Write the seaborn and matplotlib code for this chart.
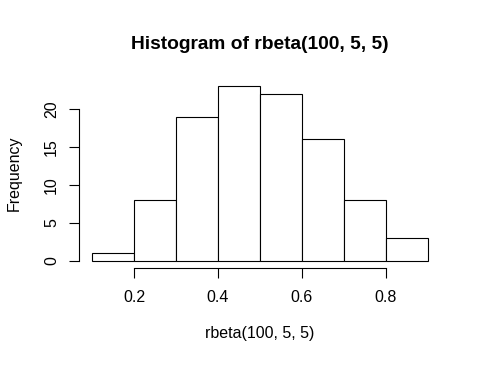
import numpy as np
import matplotlib
matplotlib.use("Agg")
import matplotlib.pyplot as plt
import seaborn as sns

# histogram bins and counts
bin_edges = [0.1, 0.2, 0.3, 0.4, 0.5, 0.6, 0.7, 0.8, 0.9]
counts = [1, 8, 19, 23, 22, 16, 8, 3]
x_ticks = [0.2, 0.4, 0.6, 0.8]
x_tick_labels = ["0.2", "0.4", "0.6", "0.8"]
y_ticks = [0, 5, 10, 15, 20]

sns.set_style("white")
plt.rcParams['font.family'] = ['Liberation Sans', 'DejaVu Sans']
plt.rcParams['text.color'] = 'black'
plt.rcParams['axes.labelcolor'] = 'black'
plt.rcParams['xtick.color'] = 'black'
plt.rcParams['ytick.color'] = 'black'

W, H = 482, 366
left, right, bottom, top_px = 78.6, 441.4, 268, 79.2   # plot region in pixels (from top)

fig = plt.figure(figsize=(W / 100, H / 100), dpi=100)
ax = fig.add_axes([left / W, (H - bottom) / H, (right - left) / W, (bottom - top_px) / H])

mids = [(a + b) / 2 for a, b in zip(bin_edges[:-1], bin_edges[1:])]
sns.histplot(
    x=mids,
    weights=counts,
    bins=bin_edges,
    color="white",
    edgecolor="black",
    linewidth=0.8,
    alpha=1,
    ax=ax
)

# R style: 4% padding around the data range
span_x = bin_edges[-1] - bin_edges[0]
ax.set_xlim(bin_edges[0] - 0.04 * span_x, bin_edges[-1] + 0.04 * span_x)
top = max(counts)
ax.set_ylim(-0.04 * top, top * 1.04)

ax.set_xticks(x_ticks)
ax.set_xticklabels(x_tick_labels)
ax.set_yticks(y_ticks)
ax.set_yticklabels([str(v) for v in y_ticks], rotation=90, va="center")

for side in ["top", "right"]:
    ax.spines[side].set_visible(False)
ax.spines["left"].set_bounds(y_ticks[0], y_ticks[-1])
ax.spines["bottom"].set_bounds(x_ticks[0], x_ticks[-1])
for side in ["left", "bottom"]:
    ax.spines[side].set_color("black")
    ax.spines[side].set_linewidth(0.8)

ax.tick_params(axis="both", which="major", length=6.9, width=0.8, color="black",
               labelsize=11.5, bottom=True, left=True)
ax.tick_params(axis="x", pad=9.2)
ax.tick_params(axis="y", pad=7.2)

# place title and labels by their baselines (pixel positions from the reference)
ax_h = bottom - top_px
ax_w = right - left
ax.set_title("Histogram of rbeta(100, 5, 5)", fontsize=13.8, fontweight="bold",
             y=(bottom - 49) / ax_h, pad=0, va="baseline")
ax.set_xlabel("rbeta(100, 5, 5)", fontsize=11.5)
ax.xaxis.set_label_coords(0.5, -(337.7 - bottom) / ax_h)
ax.xaxis.label.set_va("baseline")
ax.set_ylabel("Frequency", fontsize=11.5)
ax.yaxis.set_label_coords((19 - left) / ax_w, 0.5)
ax.yaxis.label.set_va("baseline")

fig.savefig("out.png", dpi=100)
